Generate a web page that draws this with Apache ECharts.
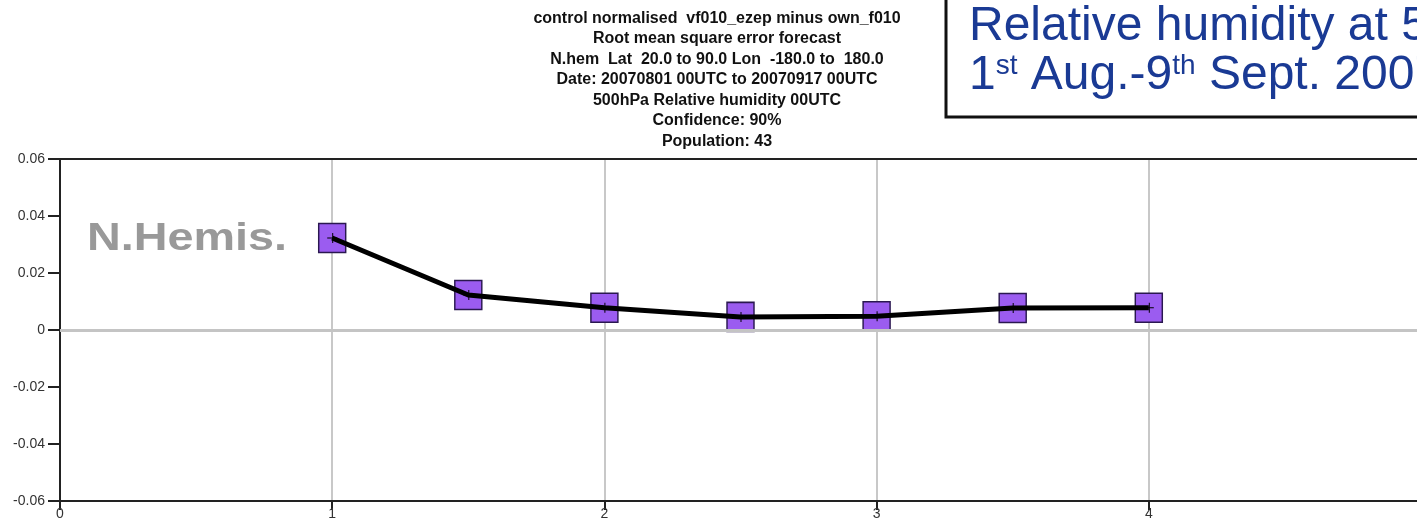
<!DOCTYPE html>
<html>
<head>
<meta charset="utf-8">
<script src="https://cdn.jsdelivr.net/npm/echarts@6/dist/echarts.min.js"></script>
<style>
html,body{margin:0;padding:0;background:#fff;}
#chart{width:1417px;height:526px;}
</style>
</head>
<body>
<div id="chart"></div>
<script>
// ---- data ----
var titleLines = [
  'control normalised  vf010_ezep minus own_f010',
  'Root mean square error forecast',
  'N.hem  Lat  20.0 to 90.0 Lon  -180.0 to  180.0',
  'Date: 20070801 00UTC to 20070917 00UTC',
  '500hPa Relative humidity 00UTC',
  'Confidence: 90%',
  'Population: 43'
];
var boxLine1 = 'Relative humidity at 500hPa';
var regionLabel = 'N.Hemis.';
var xValues = [1, 1.5, 2, 2.5, 3, 3.5, 4];
var rmsDiff = [0.0323, 0.0123, 0.0078, 0.0046, 0.0048, 0.0077, 0.0078];
var xTickLabels = ['0', '1', '2', '3', '4'];

var points = xValues.map(function (x, i) { return [x, rmsDiff[i]]; });
var FONT = 'Liberation Sans, Arial, sans-serif';

var chart = echarts.init(document.getElementById('chart'));
var option = {
  backgroundColor: '#ffffff',
  animation: false,
  title: {
    text: titleLines.join('\n'),
    left: 712,
    textAlign: 'center',
    top: 3,
    textStyle: {
      fontFamily: FONT,
      fontWeight: 'bold',
      fontSize: 16,
      lineHeight: 20.5,
      color: '#111'
    }
  },
  grid: { left: 60, top: 159, width: 1361, height: 342, outerBoundsMode: 'none', containLabel: false },
  xAxis: [{
    type: 'value',
    min: 0, max: 5, interval: 1,
    axisLine: { show: true, onZero: false, lineStyle: { color: '#222', width: 2 } },
    axisTick: { show: true, length: 9, lineStyle: { color: '#222', width: 2 } },
    axisLabel: {
      color: '#333', fontSize: 14, margin: 6,
      fontFamily: FONT,
      formatter: function (v) { return xTickLabels[Math.round(v)] || ''; }
    },
    splitLine: { show: true, lineStyle: { color: '#c8c8c8', width: 2 } }
  }, {
    type: 'value', position: 'top',
    min: 0, max: 5,
    axisLine: { show: true, onZero: false, lineStyle: { color: '#222', width: 2 } },
    axisTick: { show: false }, axisLabel: { show: false }, splitLine: { show: false }
  }],
  yAxis: {
    type: 'value',
    min: -0.06, max: 0.06, interval: 0.02,
    axisLine: { show: true, onZero: false, lineStyle: { color: '#222', width: 2 } },
    axisTick: { show: true, length: 12, lineStyle: { color: '#222', width: 2 } },
    axisLabel: {
      color: '#333', fontSize: 14, margin: 15,
      fontFamily: FONT,
      formatter: function (v) {
        var r = Math.round(v * 100) / 100;
        return r === 0 ? '0' : r.toFixed(2);
      }
    },
    splitLine: { show: false }
  },
  series: [{
    type: 'line',
    data: points,
    symbol: 'rect',
    symbolSize: [27, 29],
    z: 2,
    lineStyle: { opacity: 0 },
    itemStyle: { color: '#9b5cf0', borderColor: '#2a1850', borderWidth: 1.5 },
    markLine: {
      silent: true, symbol: 'none', label: { show: false },
      lineStyle: { color: '#c4c4c4', width: 3, type: 'solid' },
      data: [{ yAxis: 0 }]
    }
  }, {
    type: 'line',
    data: points,
    z: 3,
    symbol: 'path://M0,5L10,5L10,6L0,6ZM5,0L6,0L6,11L5,11Z',
    symbolSize: 10,
    itemStyle: { color: '#000' },
    lineStyle: { color: '#000', width: 5 }
  }],
  graphic: [{
    type: 'text',
    x: 87, y: 221,
    scaleX: 1.23,
    style: {
      text: regionLabel,
      fill: '#999999',
      font: 'bold 38px "Liberation Sans", Arial, sans-serif'
    }
  }, {
    type: 'rect',
    shape: { x: 946, y: -10, width: 600, height: 127 },
    style: { fill: '#fff', stroke: '#111', lineWidth: 3 }
  }, {
    type: 'text',
    x: 969, y: 3,
    style: {
      text: boxLine1,
      fill: '#1a3a94',
      font: '48px "Liberation Sans", Arial, sans-serif'
    }
  }, {
    type: 'text',
    x: 969, y: 52,
    style: {
      rich: {
        n: { fontSize: 48, lineHeight: 48, fontFamily: FONT, fill: '#1a3a94', color: '#1a3a94' },
        s: { fontSize: 28, lineHeight: 28, fontFamily: FONT, fill: '#1a3a94', color: '#1a3a94', verticalAlign: 'top' }
      },
      text: '{n|1}{s|st}{n| Aug.-9}{s|th}{n| Sept. 2007}'
    }
  }]
};
chart.setOption(option);
</script>
</body>
</html>
